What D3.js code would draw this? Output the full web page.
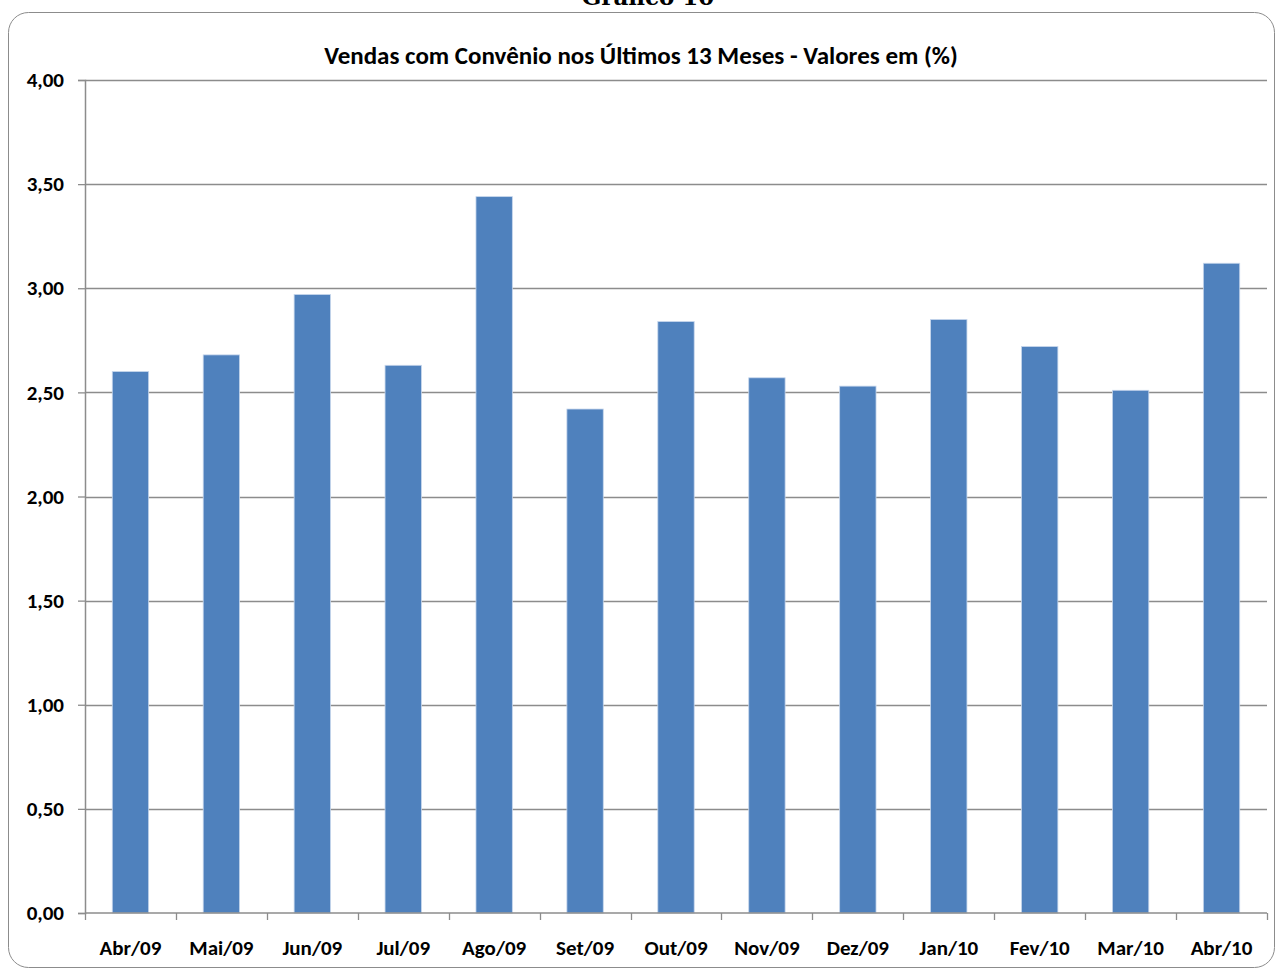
<!DOCTYPE html>
<html>
<head>
<meta charset="utf-8">
<script src="https://cdn.jsdelivr.net/npm/d3@7"></script>
<style>
    body { margin: 0; background: #fff; }
    #chart { width: 1277px; height: 971px; }
    .lbl { font-family: Carlito, "Liberation Sans Narrow", "Liberation Sans", sans-serif; font-weight: bold; fill: #000; }
</style>
</head>
<body>
<div id="chart"></div>
<script>
const months = ["Abr/09", "Mai/09", "Jun/09", "Jul/09", "Ago/09", "Set/09", "Out/09",
                "Nov/09", "Dez/09", "Jan/10", "Fev/10", "Mar/10", "Abr/10"];
const values = [2.60, 2.68, 2.97, 2.63, 3.44, 2.42, 2.84, 2.57, 2.53, 2.85, 2.72, 2.51, 3.12];
const yTicks = [0, 0.5, 1, 1.5, 2, 2.5, 3, 3.5, 4];
const title = "Vendas com Convênio nos Últimos 13 Meses - Valores em (%)";
const caption = "Gráfico 10";

const width = 1277, height = 971;
const margin = { top: 80, right: 10, bottom: 58, left: 85 };

const ptBR = d3.formatLocale({ decimal: ",", thousands: ".", grouping: [3], currency: ["R$", ""] });
const fmt = ptBR.format(".2f");

const svg = d3.select("#chart").append("svg")
    .attr("width", width)
    .attr("height", height);

// outer chart frame (rounded, as in the spreadsheet export)
svg.append("rect")
    .attr("x", 8.5).attr("y", 12.5)
    .attr("width", 1266).attr("height", 955)
    .attr("rx", 20).attr("ry", 20)
    .attr("fill", "#fff")
    .attr("stroke", "#8c8c8c")
    .attr("stroke-width", 1);

svg.append("text")
    .attr("x", 648).attr("y", 5)
    .attr("text-anchor", "middle")
    .style("font-family", "'DejaVu Serif', serif")
    .style("font-weight", "bold")
    .style("font-size", "23px")
    .text(caption);

svg.append("text")
    .attr("class", "lbl")
    .attr("x", 641).attr("y", 64)
    .attr("text-anchor", "middle")
    .style("font-size", "25px")
    .text(title);

const x = d3.scaleBand()
    .domain(months)
    .range([margin.left, width - margin.right])
    .paddingInner(0.6)
    .paddingOuter(0.3);

const y = d3.scaleLinear()
    .domain([0, 4])
    .range([height - margin.bottom, margin.top]);

// gridlines
svg.append("g")
    .selectAll("line")
    .data(yTicks.filter(d => d > 0))
    .join("line")
    .attr("x1", margin.left).attr("x2", width - margin.right)
    .attr("y1", d => Math.round(y(d)) + 0.5).attr("y2", d => Math.round(y(d)) + 0.5)
    .attr("stroke", "#8c8c8c")
    .attr("stroke-width", 1.3);

// bars
svg.append("g")
    .selectAll("rect")
    .data(values)
    .join("rect")
    .attr("x", (d, i) => x(months[i]))
    .attr("y", d => y(d))
    .attr("width", x.bandwidth())
    .attr("height", d => y(0) - y(d))
    .attr("fill", "#4f81bd")
    .attr("stroke", "#c6d6ec")
    .attr("stroke-width", 0.8);

// y axis
const yAxis = svg.append("g")
    .attr("transform", `translate(${margin.left},0)`)
    .call(d3.axisLeft(y).tickValues(yTicks).tickFormat(fmt).tickSize(7).tickPadding(14));
yAxis.select(".domain").attr("stroke", "#8c8c8c").attr("stroke-width", 1.5);
yAxis.selectAll(".tick line").attr("stroke", "#8c8c8c").attr("stroke-width", 1.3);
yAxis.selectAll(".tick text").attr("class", "lbl").style("font-size", "21px");

// x axis: ticks sit between categories
const xAxis = svg.append("g")
    .attr("transform", `translate(0,${y(0)})`);
xAxis.append("line")
    .attr("x1", margin.left).attr("x2", width - margin.right)
    .attr("stroke", "#8c8c8c").attr("stroke-width", 1.5);
const step = x.step();
const edges = months.map((m, i) => x(m) - (step - x.bandwidth()) / 2).concat([width - margin.right]);
xAxis.selectAll(".xt")
    .data(edges)
    .join("line")
    .attr("class", "xt")
    .attr("x1", d => Math.round(d) + 0.5).attr("x2", d => Math.round(d) + 0.5)
    .attr("y1", 0).attr("y2", 7)
    .attr("stroke", "#8c8c8c").attr("stroke-width", 1.3);
xAxis.selectAll(".xl")
    .data(months)
    .join("text")
    .attr("class", "lbl")
    .attr("x", d => x(d) + x.bandwidth() / 2)
    .attr("y", 42)
    .attr("text-anchor", "middle")
    .style("font-size", "21px")
    .text(d => d);
</script>
</body>
</html>
